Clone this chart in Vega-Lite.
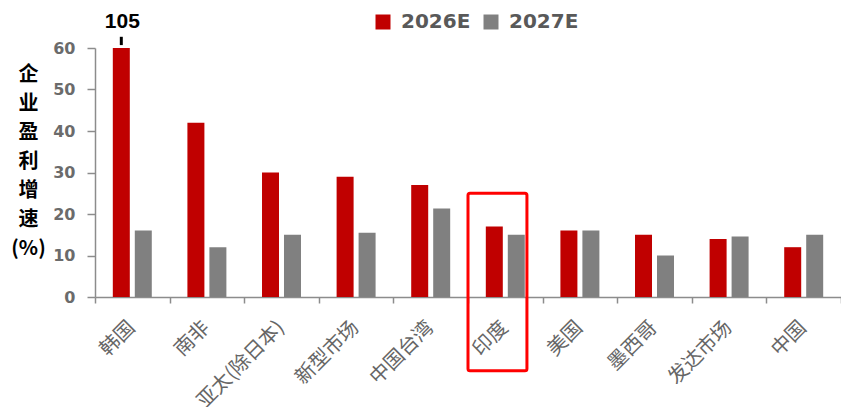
{
  "$schema": "https://vega.github.io/schema/vega-lite/v6.json",
  "width": 746,
  "height": 249,
  "autosize": {"type": "none"},
  "padding": {"left": 95, "top": 48, "right": 0, "bottom": 110},
  "config": {"view": {"stroke": null}, "font": "Noto Sans CJK SC"},
  "datasets": {
    "bars": [
      {"country": "韩国", "series": "2026E", "value": 105},
      {"country": "韩国", "series": "2027E", "value": 16},
      {"country": "南非", "series": "2026E", "value": 42},
      {"country": "南非", "series": "2027E", "value": 12},
      {"country": "亚太(除日本)", "series": "2026E", "value": 30},
      {"country": "亚太(除日本)", "series": "2027E", "value": 15},
      {"country": "新型市场", "series": "2026E", "value": 29},
      {"country": "新型市场", "series": "2027E", "value": 15.5},
      {"country": "中国台湾", "series": "2026E", "value": 27},
      {"country": "中国台湾", "series": "2027E", "value": 21.3},
      {"country": "印度", "series": "2026E", "value": 17},
      {"country": "印度", "series": "2027E", "value": 15},
      {"country": "美国", "series": "2026E", "value": 16},
      {"country": "美国", "series": "2027E", "value": 16},
      {"country": "墨西哥", "series": "2026E", "value": 15},
      {"country": "墨西哥", "series": "2027E", "value": 10},
      {"country": "发达市场", "series": "2026E", "value": 14},
      {"country": "发达市场", "series": "2027E", "value": 14.6},
      {"country": "中国", "series": "2026E", "value": 12},
      {"country": "中国", "series": "2027E", "value": 15}
    ],
    "notes": [
      {"country": "韩国", "series": "2026E", "label": "105", "ty": 66.3, "r1": 60.7, "r2": 62.7}
    ],
    "box": [
      {"country": "印度", "top": 25, "bottom": -17.8}
    ]
  },
  "layer": [
    {
      "data": {"name": "bars"},
      "mark": {"type": "bar"},
      "encoding": {
        "x": {
          "field": "country",
          "type": "nominal",
          "scale": {
            "domain": ["韩国", "南非", "亚太(除日本)", "新型市场", "中国台湾", "印度", "美国", "墨西哥", "发达市场", "中国"],
            "paddingInner": 0,
            "paddingOuter": 0
          },
          "axis": {
            "title": null,
            "labelAngle": -45,
            "labelAlign": "right",
            "labelBaseline": "middle",
            "labelFont": "Noto Sans CJK SC",
            "labelFontSize": 20,
            "labelColor": "#666666",
            "labelPadding": 21,
            "labelOffset": -1,
            "tickBand": "extent",
            "tickSize": 6,
            "tickColor": "#8c8c8c",
            "domainColor": "#8c8c8c",
            "domainWidth": 1.5,
            "tickWidth": 1.5
          }
        },
        "xOffset": {
          "field": "series",
          "type": "nominal",
          "scale": {"paddingInner": 0.227, "paddingOuter": 0.81}
        },
        "y": {
          "field": "value",
          "type": "quantitative",
          "scale": {"domain": [0, 60], "clamp": true, "nice": false},
          "axis": {
            "values": [0, 10, 20, 30, 40, 50, 60],
            "grid": false,
            "labelFont": "DejaVu Sans",
            "labelFontWeight": "bold",
            "labelFontSize": 16,
            "labelColor": "#6b6b6b",
            "labelPadding": 12,
            "tickSize": 8,
            "tickColor": "#8c8c8c",
            "tickWidth": 1.5,
            "domainColor": "#8c8c8c",
            "domainWidth": 1.5,
            "title": ["企", "业", "盈", "利", "增", "速", "(%)"],
            "titleFont": "Noto Sans CJK SC",
            "titleFontSize": 20,
            "titleFontWeight": "bold",
            "titleColor": "#000000",
            "titleAngle": 0,
            "titleAlign": "center",
            "titleBaseline": "top",
            "titleX": -67,
            "titleY": 16,
            "titleLineHeight": 29
          }
        },
        "color": {
          "field": "series",
          "type": "nominal",
          "scale": {"domain": ["2026E", "2027E"], "range": ["#C00000", "#808080"]},
          "legend": {
            "title": null,
            "orient": "none",
            "legendX": 278,
            "legendY": -36,
            "direction": "horizontal",
            "symbolType": "square",
            "symbolSize": 225,
            "symbolStrokeWidth": 0,
            "labelFont": "DejaVu Sans",
            "labelFontWeight": "bold",
            "labelFontSize": 20,
            "labelColor": "#595959",
            "labelOffset": 8,
            "columnSpacing": 22
          }
        }
      }
    },
    {
      "layer": [
        {
          "data": {"name": "notes"},
          "mark": {"type": "text", "font": "Liberation Sans", "fontSize": 21, "fontWeight": "bold", "color": "#000000", "baseline": "middle", "dx": 1},
          "encoding": {
            "x": {"field": "country", "type": "nominal"},
            "xOffset": {"field": "series", "type": "nominal"},
            "y": {"field": "ty", "type": "quantitative", "scale": {"domain": [0, 60], "nice": false}, "axis": null},
            "text": {"field": "label"}
          }
        },
        {
          "data": {"name": "notes"},
          "mark": {"type": "rule", "color": "#000000", "strokeWidth": 3},
          "encoding": {
            "x": {"field": "country", "type": "nominal"},
            "xOffset": {"field": "series", "type": "nominal"},
            "y": {"field": "r1", "type": "quantitative"},
            "y2": {"field": "r2"}
          }
        },
        {
          "data": {"name": "box"},
          "mark": {"type": "rect", "fill": null, "filled": false, "stroke": "#FF0000", "strokeWidth": 3, "cornerRadius": 2},
          "encoding": {
            "x": {"field": "country", "type": "nominal", "bandPosition": 0},
            "x2": {"field": "country", "bandPosition": 0.79},
            "y": {"field": "top", "type": "quantitative"},
            "y2": {"field": "bottom"}
          }
        }
      ]
    }
  ],
  "resolve": {"scale": {"y": "independent"}}
}
